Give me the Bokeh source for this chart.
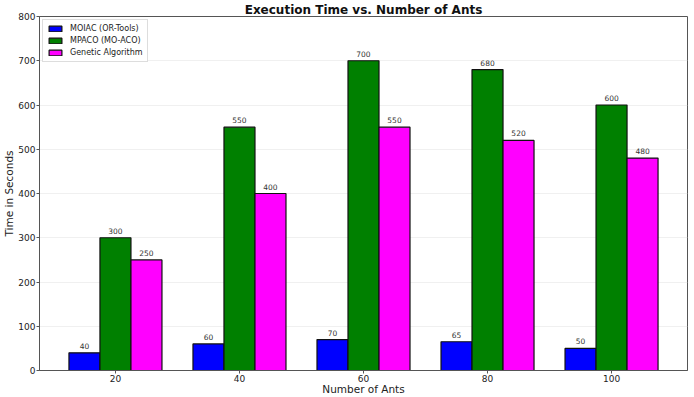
from bokeh.plotting import figure
from bokeh.models import ColumnDataSource, Range1d, FixedTicker, LabelSet, Legend, LegendItem
from bokeh.core.properties import value
from bokeh.embed import file_html
from bokeh.resources import INLINE

ants = ["20", "40", "60", "80", "100"]
moiac = [40, 60, 70, 65, 50]
mpaco = [300, 550, 700, 680, 600]
genetic = [250, 400, 550, 520, 480]

series = [
    ("MOIAC (OR-Tools)", moiac, "#0000ff"),
    ("MPACO (MO-ACO)", mpaco, "#008000"),
    ("Genetic Algorithm", genetic, "#ff00ff"),
]

FONT = "DejaVu Sans"
bar_w = 0.25

p = figure(width=694, height=397, output_backend="svg", toolbar_location=None,
           x_range=Range1d(-0.6125, 4.6125), y_range=Range1d(0, 800),
           min_border_left=0, min_border_right=7, min_border_top=0, min_border_bottom=0)

p.title.text = "Execution Time vs. Number of Ants"
p.title.align = "center"
p.title.text_font = FONT
p.title.text_font_size = "12px"
p.title.text_font_style = "bold"
p.title.text_color = "#111111"
p.title.standoff = 0

items = []
for i, (name, vals, color) in enumerate(series):
    xs = [k + (i - 1) * bar_w for k in range(len(ants))]
    src = ColumnDataSource(dict(x=xs, top=vals, lab=[str(v) for v in vals]))
    r = p.vbar(x="x", top="top", width=bar_w, bottom=0, source=src,
               fill_color=color, line_color="#111111", line_width=1.2)
    items.append(LegendItem(label=name, renderers=[r]))
    p.add_layout(LabelSet(x="x", y="top", text="lab", source=src, x_offset=0, y_offset=4,
                          text_align="center", text_baseline="bottom",
                          text_font=value(FONT), text_font_size=value("7.5px"),
                          text_color=value("#333333")))

legend = Legend(items=items, location="top_left", label_text_font=FONT,
                label_text_font_size="8px", label_text_color="#222222",
                glyph_width=16, glyph_height=7, label_height=9, spacing=3,
                padding=4, margin=3, border_line_color="#bbbbbb",
                border_line_width=1, background_fill_alpha=1.0, label_standoff=7)
p.add_layout(legend)

p.xaxis.ticker = FixedTicker(ticks=list(range(len(ants))))
p.xaxis.major_label_overrides = {k: a for k, a in enumerate(ants)}
p.yaxis.ticker = FixedTicker(ticks=list(range(0, 801, 100)))

for ax in (p.xaxis[0], p.yaxis[0]):
    ax.axis_line_color = "#555555"
    ax.major_tick_line_color = "#555555"
    ax.minor_tick_line_color = None
    ax.major_tick_out = 3
    ax.major_tick_in = 0
    ax.major_label_text_font = FONT
    ax.major_label_text_font_size = "9px"
    ax.major_label_text_color = "#222222"
    ax.axis_label_text_font = FONT
    ax.axis_label_text_font_size = "10.5px"
    ax.axis_label_text_font_style = "normal"
    ax.axis_label_text_color = "#222222"

p.yaxis.major_label_standoff = 1
p.yaxis.axis_label_standoff = 0
p.xaxis.major_label_standoff = 1
p.xaxis.axis_label_standoff = -2

p.xaxis.axis_label = "Number of Ants"
p.yaxis.axis_label = "Time in Seconds"

p.xgrid.grid_line_color = None
p.ygrid.grid_line_color = "#ececec"
p.ygrid.grid_line_width = 0.8
p.outline_line_color = "#555555"
p.outline_line_width = 1

open("out.html", "w").write(file_html(p, INLINE))
